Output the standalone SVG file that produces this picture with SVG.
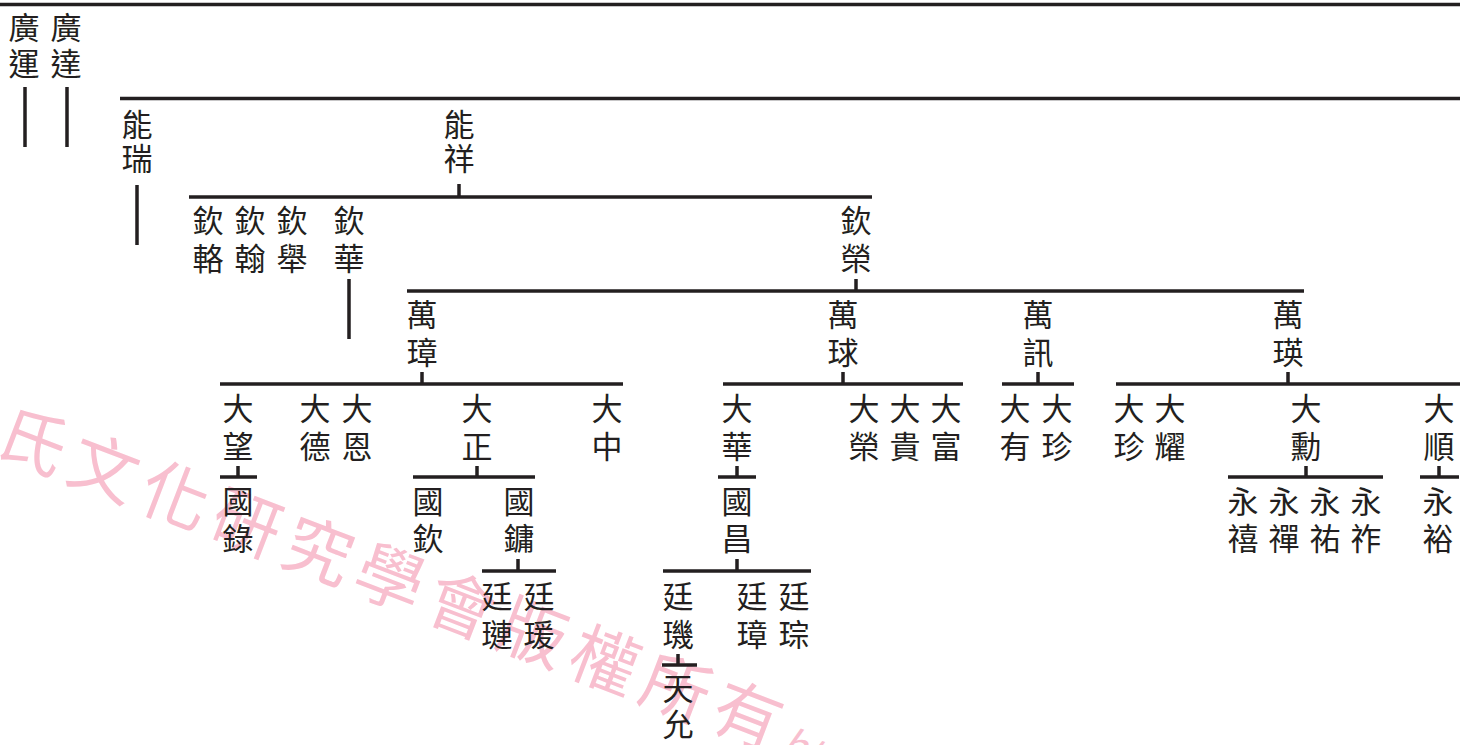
<svg xmlns="http://www.w3.org/2000/svg" width="1472" height="745" viewBox="0 0 1472 745">
<style>
.n{font-family:"Noto Sans CJK TC","Noto Sans CJK SC",sans-serif;font-size:31px;fill:#231f20;writing-mode:vertical-rl;text-orientation:upright}
.c{stroke:#231f20;stroke-width:3.5;fill:none}
.wm{font-family:"Noto Sans CJK TC","Noto Sans CJK SC",sans-serif;font-size:68px;font-weight:400;fill:#f8bfcf;letter-spacing:8.6px}
</style>
<rect width="1472" height="745" fill="#ffffff"/>
<g id="watermark" transform="translate(33,440) rotate(21)">
<text class="wm" x="-34" y="26">氏文化研究學會版權所有<tspan font-size="40" font-style="italic" letter-spacing="0">htt</tspan></text>
</g>
<g id="connectors" class="c">
<path d="M0 4.5H1460"/>
<path d="M25 87V147M67 87V147"/>
<path d="M120 98.5H1460"/>
<path d="M137 185V245M459 184V197"/>
<path d="M189 197H872"/>
<path d="M349 279V339M856 279V291"/>
<path d="M407 291H1304"/>
<path d="M422 372V384M843 372V384M1038 372V384M1288 372V384"/>
<path d="M220 384H623M723 384H963M1002 384H1074M1116 384H1460"/>
<path d="M238 466V477M477 466V477M737 466V477M1306 466V477M1439 466V477"/>
<path d="M220 477H257M413 477H535M718 477H756M1228 477H1383M1420 477H1459"/>
<path d="M518 559V571M737 559V571"/>
<path d="M482 571H556M663 571H811"/>
<path d="M678 654V665M662 665H697"/>
</g>
<g id="n-guangyun"><text class="n" x="24" y="11.5">廣</text><text class="n" x="24" y="47.5">運</text></g>
<g id="n-guangda"><text class="n" x="66" y="11.5">廣</text><text class="n" x="66" y="47.5">達</text></g>
<g id="n-nengrui"><text class="n" x="137" y="108.5">能</text><text class="n" x="137" y="142.5">瑞</text></g>
<g id="n-nengxiang"><text class="n" x="459" y="108.5">能</text><text class="n" x="459" y="142.5">祥</text></g>
<g id="n-qinlu"><text class="n" x="208" y="204.5">欽</text><text class="n" x="208" y="242.5">輅</text></g>
<g id="n-qinhan"><text class="n" x="250" y="204.5">欽</text><text class="n" x="250" y="242.5">翰</text></g>
<g id="n-qinju"><text class="n" x="292" y="204.5">欽</text><text class="n" x="292" y="242.5">舉</text></g>
<g id="n-qinhua"><text class="n" x="349" y="204.5">欽</text><text class="n" x="349" y="242.5">華</text></g>
<g id="n-qinrong"><text class="n" x="856" y="204.5">欽</text><text class="n" x="856" y="242.5">榮</text></g>
<g id="n-wanzhang"><text class="n" x="422" y="298.5">萬</text><text class="n" x="422" y="336.5">璋</text></g>
<g id="n-wanqiu"><text class="n" x="843" y="298.5">萬</text><text class="n" x="843" y="336.5">球</text></g>
<g id="n-wanxun"><text class="n" x="1038" y="298.5">萬</text><text class="n" x="1038" y="336.5">訊</text></g>
<g id="n-wanying"><text class="n" x="1288" y="298.5">萬</text><text class="n" x="1288" y="336.5">瑛</text></g>
<g id="n-dawang"><text class="n" x="238" y="392.5">大</text><text class="n" x="238" y="430.5">望</text></g>
<g id="n-dade"><text class="n" x="315" y="392.5">大</text><text class="n" x="315" y="430.5">德</text></g>
<g id="n-daen"><text class="n" x="357" y="392.5">大</text><text class="n" x="357" y="430.5">恩</text></g>
<g id="n-dazheng"><text class="n" x="477" y="392.5">大</text><text class="n" x="477" y="430.5">正</text></g>
<g id="n-dazhong"><text class="n" x="607" y="392.5">大</text><text class="n" x="607" y="430.5">中</text></g>
<g id="n-dahua"><text class="n" x="737" y="392.5">大</text><text class="n" x="737" y="430.5">華</text></g>
<g id="n-darong"><text class="n" x="864" y="392.5">大</text><text class="n" x="864" y="430.5">榮</text></g>
<g id="n-dagui"><text class="n" x="905" y="392.5">大</text><text class="n" x="905" y="430.5">貴</text></g>
<g id="n-dafu"><text class="n" x="946" y="392.5">大</text><text class="n" x="946" y="430.5">富</text></g>
<g id="n-dayou"><text class="n" x="1015" y="392.5">大</text><text class="n" x="1015" y="430.5">有</text></g>
<g id="n-dazhen1"><text class="n" x="1057" y="392.5">大</text><text class="n" x="1057" y="430.5">珍</text></g>
<g id="n-dazhen2"><text class="n" x="1129" y="392.5">大</text><text class="n" x="1129" y="430.5">珍</text></g>
<g id="n-dayao"><text class="n" x="1170" y="392.5">大</text><text class="n" x="1170" y="430.5">耀</text></g>
<g id="n-daxun"><text class="n" x="1306" y="392.5">大</text><text class="n" x="1306" y="430.5">勳</text></g>
<g id="n-dashun"><text class="n" x="1439" y="392.5">大</text><text class="n" x="1439" y="430.5">順</text></g>
<g id="n-guolu"><text class="n" x="238" y="485.5">國</text><text class="n" x="238" y="522.5">錄</text></g>
<g id="n-guoqin"><text class="n" x="428" y="485.5">國</text><text class="n" x="428" y="522.5">欽</text></g>
<g id="n-guoyong"><text class="n" x="519" y="485.5">國</text><text class="n" x="519" y="522.5">鏞</text></g>
<g id="n-guochang"><text class="n" x="737" y="485.5">國</text><text class="n" x="737" y="522.5">昌</text></g>
<g id="n-yongxi"><text class="n" x="1243" y="485.5">永</text><text class="n" x="1243" y="522.5">禧</text></g>
<g id="n-yongchan"><text class="n" x="1284" y="485.5">永</text><text class="n" x="1284" y="522.5">禪</text></g>
<g id="n-yongyou"><text class="n" x="1325" y="485.5">永</text><text class="n" x="1325" y="522.5">祐</text></g>
<g id="n-yongzuo"><text class="n" x="1366" y="485.5">永</text><text class="n" x="1366" y="522.5">祚</text></g>
<g id="n-yongyu"><text class="n" x="1438" y="485.5">永</text><text class="n" x="1438" y="522.5">裕</text></g>
<g id="n-tinglian"><text class="n" x="497" y="580.5">廷</text><text class="n" x="497" y="618.5">璉</text></g>
<g id="n-tingyuan"><text class="n" x="539" y="580.5">廷</text><text class="n" x="539" y="618.5">瑗</text></g>
<g id="n-tingji"><text class="n" x="678" y="580.5">廷</text><text class="n" x="678" y="618.5">璣</text></g>
<g id="n-tingzhang"><text class="n" x="752" y="580.5">廷</text><text class="n" x="752" y="618.5">璋</text></g>
<g id="n-tingcong"><text class="n" x="794" y="580.5">廷</text><text class="n" x="794" y="618.5">琮</text></g>
<g id="n-tianyun"><text class="n" x="678" y="672.5">天</text><text class="n" x="678" y="708.5">允</text></g>
</svg>
